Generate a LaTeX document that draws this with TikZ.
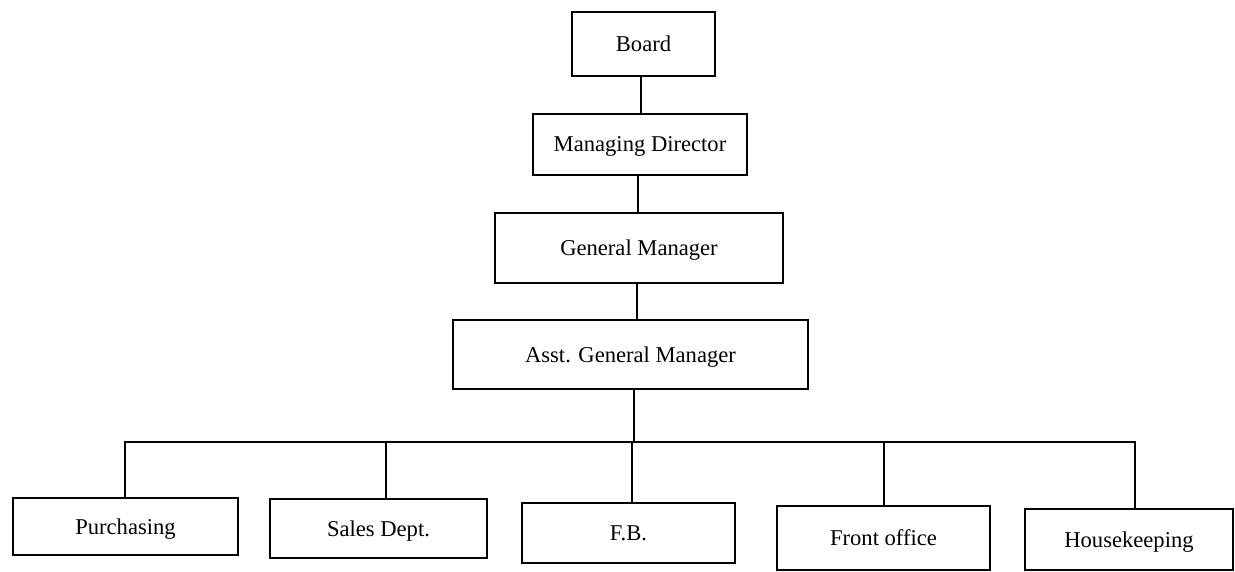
\documentclass[tikz,border=0pt]{standalone}
\usepackage{fontspec}
\setmainfont{Liberation Serif}
\begin{document}
\begin{tikzpicture}[x=0.5pt,y=-0.5pt,
  box/.style={draw,line width=0.9pt,rectangle,inner sep=0pt,text depth=0pt,font=\fontsize{11.3}{13}\selectfont},
  link/.style={line width=0.9pt}]
\useasboundingbox (0,0) rectangle (1235,572);
% upper chain
\node[box,minimum width=71.5pt,minimum height=32pt] (board) at (643.5,44) {Board};
\node[box,minimum width=107pt,minimum height=30.5pt] (md) at (640,144.5) {Managing Director};
\node[box,minimum width=144pt,minimum height=35pt] (gm) at (639,248) {General Manager};
\node[box,minimum width=177.5pt,minimum height=34.5pt] (agm) at (630.5,354.5) {Asst. General Manager};
% departments
\node[box,minimum width=112.5pt,minimum height=28.5pt] (purch) at (125.5,526.5) {Purchasing};
\node[box,minimum width=108.5pt,minimum height=29.5pt] (sales) at (378.5,528.5) {Sales Dept.};
\node[box,minimum width=106.5pt,minimum height=30pt] (fb) at (628.5,533) {F.B.};
\node[box,minimum width=106.5pt,minimum height=32pt] (front) at (883.5,538) {Front office};
\node[box,minimum width=104pt,minimum height=30.5pt] (hk) at (1129,539.5) {Housekeeping};
% bus coordinates
\coordinate (bus) at (634,442);
\coordinate (dP) at (125,442);
\coordinate (dS) at (386,442);
\coordinate (dF) at (632,442);
\coordinate (dO) at (884,442);
\coordinate (dH) at (1135,442);
\coordinate (c1) at (641,0);
\coordinate (c2) at (638,0);
\coordinate (c3) at (637,0);
% connectors
\draw[link] (c1 |- board.south) -- (c1 |- md.north);
\draw[link] (c2 |- md.south) -- (c2 |- gm.north);
\draw[link] (c3 |- gm.south) -- (c3 |- agm.north);
\draw[link] (bus |- agm.south) -- (bus);
\draw[link] (dP |- purch.north) -- (dP) -- (dH) -- (dH |- hk.north);
\draw[link] (dS) -- (dS |- sales.north);
\draw[link] (dF) -- (dF |- fb.north);
\draw[link] (dO) -- (dO |- front.north);
\end{tikzpicture}
\end{document}
